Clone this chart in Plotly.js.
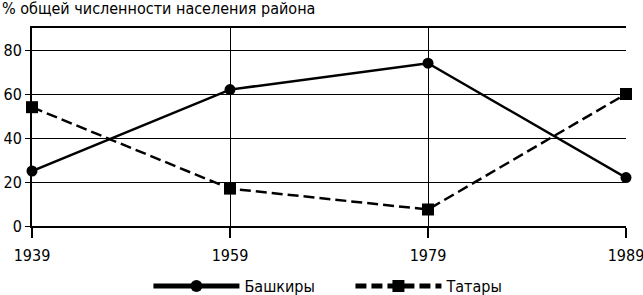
<!DOCTYPE html>
<html><head><meta charset="utf-8">
<script src="https://cdn.plot.ly/plotly-3.0.1.min.js"></script>
<style>html,body{margin:0;padding:0;background:#fff;}#c{width:643px;height:295px;}</style>
</head><body><div id="c"></div>
<script>
const years = ['1939', '1959', '1979', '1989'];
const bashkirs = [25, 62, 74, 22];
const tatars = [54, 17, 7.5, 60];
const seriesNames = ['Башкиры', 'Татары'];
const yTicks = [0, 20, 40, 60, 80];
const titleText = '% общей численности населения района';

const FONT = '"DejaVu Sans Condensed", "Liberation Sans Narrow", sans-serif';

const traces = [
  {x: years, y: bashkirs, name: seriesNames[0], type: 'scatter', mode: 'lines+markers', cliponaxis: false,
   line: {color: '#000', width: 2.5}, marker: {symbol: 'circle', size: 11, color: '#000'}},
  {x: years, y: tatars, name: seriesNames[1], type: 'scatter', mode: 'lines+markers', cliponaxis: false,
   line: {color: '#000', width: 2.5, dash: '11px,5px'}, marker: {symbol: 'square', size: 12, color: '#000'}}
];

const layout = {
  width: 643, height: 295,
  margin: {l: 32, r: 17, t: 28, b: 69, autoexpand: false},
  paper_bgcolor: '#fff', plot_bgcolor: '#fff',
  font: {family: FONT, size: 16, color: '#000'},
  showlegend: true,
  legend: {orientation: 'h', x: 0.545, xref: 'container', xanchor: 'center', y: -0.389, yref: 'paper', yanchor: 'bottom',
           itemwidth: 86, entrywidth: 101, entrywidthmode: 'pixels',
           font: {size: 16, family: FONT}, traceorder: 'normal', itemsizing: 'constant'},
  title: {text: titleText, x: 0, xref: 'container', xanchor: 'left', y: 1, yref: 'container', yanchor: 'top', pad: {t: 3, l: 2},
          font: {size: 16, family: FONT, color: '#000'}},
  xaxis: {type: 'category', categoryorder: 'array', categoryarray: years,
          range: [0, 3], showgrid: true, gridcolor: '#000', gridwidth: 1,
          showline: true, linecolor: '#000', linewidth: 2, mirror: true,
          ticks: 'outside', ticklen: 10, tickcolor: '#000', tickwidth: 2, ticklabelstandoff: 4,
          zeroline: false, tickfont: {size: 16, family: FONT}},
  yaxis: {range: [0, 90], tickvals: yTicks, showgrid: true, gridcolor: '#000', gridwidth: 1,
          showline: true, linecolor: '#000', linewidth: 2,
          ticks: 'outside', ticklen: 5, tickcolor: '#000', tickwidth: 1,
          zeroline: false, tickfont: {size: 16, family: FONT}},
  shapes: [
    {type: 'line', xref: 'x', yref: 'paper', x0: '1979', x1: '1979', y0: 0, y1: 1, line: {color: '#000', width: 2.5}},
    {type: 'line', xref: 'x', yref: 'paper', x0: '1989', x1: '1989', y0: 0, y1: 1, line: {color: '#000', width: 2}}
  ]
};

Plotly.newPlot('c', traces, layout, {staticPlot: true, displayModeBar: false});
</script></body></html>
